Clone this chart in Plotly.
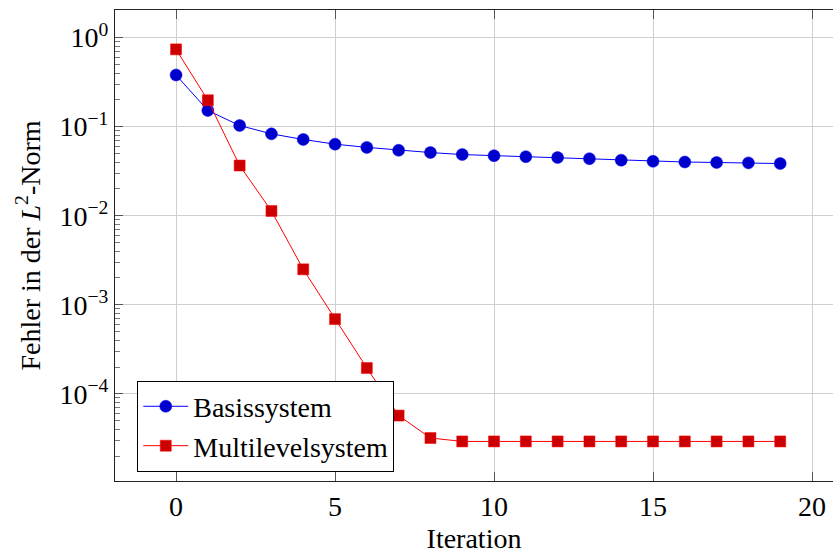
import plotly.graph_objects as go

iterations = list(range(20))
basis = [0.38, 0.152, 0.103, 0.083, 0.0718, 0.0636, 0.0585, 0.0543, 0.0512, 0.0486,
         0.0472, 0.0460, 0.0450, 0.0437, 0.0420, 0.0408, 0.0401, 0.0396, 0.0392, 0.0385]
multi = [0.738, 0.198, 0.0366, 0.0113, 0.0025, 0.00069, 0.000195, 0.000057, 0.0000319, 0.0000292,
         0.0000292, 0.0000292, 0.0000292, 0.0000292, 0.0000292, 0.0000292, 0.0000292, 0.0000292,
         0.0000292, 0.0000292]

y_tickvals = [1, 1e-1, 1e-2, 1e-3, 1e-4]
y_ticktext = ["10<sup>0</sup>", "10<sup>−1</sup>", "10<sup>−2</sup>", "10<sup>−3</sup>", "10<sup>−4</sup>"]
x_tickvals = [0, 5, 10, 15, 20]

FONT = "Liberation Serif"
FS = 28

fig = go.Figure()
fig.add_trace(go.Scatter(
    x=iterations, y=basis, mode="lines+markers", name="Basissystem",
    line=dict(color="#0000ff", width=1),
    marker=dict(symbol="circle", size=12, color="#0000cc", line=dict(color="#0000ff", width=0.5)),
))
fig.add_trace(go.Scatter(
    x=iterations, y=multi, mode="lines+markers", name="Multilevelsystem",
    line=dict(color="#ff0000", width=1),
    marker=dict(symbol="square", size=11, color="#cc0000", line=dict(color="#ff0000", width=0.5)),
))

fig.update_layout(
    width=833, height=554,
    margin=dict(l=115, r=0, t=10, b=73, autoexpand=False),
    paper_bgcolor="white", plot_bgcolor="white",
    font=dict(family=FONT, size=FS, color="black"),
    showlegend=True,
    legend=dict(
        x=0.031, y=0.020, xanchor="left", yanchor="bottom",
        bgcolor="white", bordercolor="black", borderwidth=1,
        font=dict(family=FONT, size=FS, color="black"),
        tracegroupgap=0, itemwidth=45,
    ),
)

fig.update_xaxes(
    range=[-1.92, 20.66], automargin=False,
    tickmode="array", tickvals=x_tickvals,
    ticks="inside", ticklen=9, tickcolor="#555",
    showline=True, linecolor="#222", linewidth=1, mirror="ticks",
    showgrid=True, gridcolor="#cfcfcf", gridwidth=1,
    zeroline=False,
    title=dict(text="Iteration", standoff=11, font=dict(family=FONT, size=FS)),
    tickfont=dict(family=FONT, size=FS),
)

fig.update_yaxes(
    type="log", range=[-4.979, 0.31], automargin=False,
    tickmode="array", tickvals=y_tickvals, ticktext=y_ticktext,
    ticks="inside", ticklen=8, tickcolor="#555",
    showline=True, linecolor="#222", linewidth=1,
    showgrid=True, gridcolor="#cfcfcf", gridwidth=1,
    zeroline=False,
    minor=dict(ticks="inside", ticklen=5, tickcolor="#777", dtick="D1", showgrid=False),
    title=dict(text="Fehler in der <i>L</i><sup>2</sup>-Norm", standoff=10, font=dict(family=FONT, size=FS)),
    tickfont=dict(family=FONT, size=FS),
)

fig.write_html("out.html", config={"displayModeBar": False},
               post_script="document.body.style.margin='0';document.body.style.overflow='hidden';")
